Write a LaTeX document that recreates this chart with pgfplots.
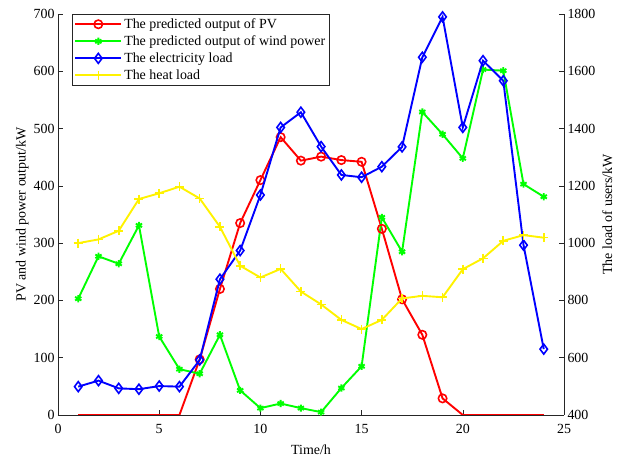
\documentclass[border=0pt]{standalone}
\usepackage{fontspec}
\setmainfont{Liberation Serif}
\usepackage{pgfplots}
\pgfplotsset{compat=1.18}
\definecolor{axgray}{rgb}{0.15,0.15,0.15}
\begin{document}
\begin{tikzpicture}
\pgfplotsset{
  every axis/.append style={
    scale only axis, width=506bp, height=401bp,
    xmin=0, xmax=25, xtick={0,5,...,25},
    tick align=inside,
    font=\fontsize{14}{16}\selectfont,
    /pgf/number format/assume math mode=true,
    /pgf/number format/1000 sep={},
    axis line style={axgray, line width=0.5pt},
    tick style={axgray, line width=0.5pt},
    major tick length=5bp,
  },
  pvstyle/.style={red, line width=1.9pt, mark=o, mark size=4.2bp, mark options={line width=1.6pt}},
  wstyle/.style={green, line width=1.9pt, mark=asterisk, mark size=3.6bp, mark options={line width=1.9pt}},
  estyle/.style={blue, line width=1.9pt, mark=diamond, mark size=5bp, mark options={line width=1.6pt}},
  hstyle/.style={yellow, line width=1.9pt, mark=+, mark size=4.5bp, mark options={line width=1.6pt}},
}
\begin{axis}[
  name=ax,
  axis x line*=bottom, axis y line*=left,
  ymin=0, ymax=700, ytick={0,100,...,700},
  xlabel={Time/h},
  ylabel={PV and wind power output/kW},
  xticklabel style={yshift=-6bp},
  xlabel style={yshift=-4bp},
  ylabel style={yshift=-2bp},
]
\addplot[pvstyle, mark indices={7,...,19}] coordinates {
(1,0)(2,0)(3,0)(4,0)(5,0)(6,0)(7,97)(8,220)(9,335)(10,410)(11,485)(12,444)
(13,451)(14,445)(15,442)(16,325)(17,202)(18,140)(19,29)(20,0)(21,0)(22,0)(23,0)(24,0)};
\addplot[wstyle] coordinates {
(1,203)(2,277)(3,264)(4,331)(5,137)(6,80)(7,72)(8,140)(9,43)(10,12)(11,20)(12,12)
(13,5)(14,47)(15,85)(16,345)(17,285)(18,529)(19,490)(20,448)(21,603)(22,601)(23,403)(24,381)};
\end{axis}
\begin{axis}[
  axis x line=none, axis y line*=right,
  ymin=400, ymax=1800, ytick={400,600,...,1800},
  ylabel={The load of users/kW},
  legend style={at={(0.028,0.999)}, anchor=north west, draw=axgray,
    font=\fontsize{14}{16}\selectfont, row sep=1.8bp, inner xsep=2bp, inner ysep=2bp},
  legend cell align=left,
  legend image code/.code={\draw[mark repeat=2,mark phase=2,#1] plot coordinates {(0bp,0bp) (23bp,0bp) (46bp,0bp)};},
]
\addlegendimage{pvstyle}
\addlegendentry{The predicted output of PV}
\addlegendimage{wstyle}
\addlegendentry{The predicted output of wind power}
\addplot[estyle] coordinates {
(1,499)(2,520)(3,493)(4,490)(5,501)(6,499)(7,592)(8,874)(9,974)(10,1168)(11,1404)(12,1457)
(13,1337)(14,1238)(15,1230)(16,1267)(17,1336)(18,1649)(19,1790)(20,1404)(21,1637)(22,1567)(23,993)(24,630)};
\addlegendentry{The electricity load}
\addplot[hstyle] coordinates {
(1,1000)(2,1013)(3,1043)(4,1154)(5,1174)(6,1197)(7,1156)(8,1057)(9,921)(10,880)(11,910)(12,831)
(13,786)(14,732)(15,700)(16,732)(17,807)(18,816)(19,811)(20,909)(21,947)(22,1008)(23,1028)(24,1019)};
\addlegendentry{The heat load}
\end{axis}
\path[use as bounding box] ([xshift=-58bp,yshift=-49bp]ax.south west) rectangle ([xshift=60bp,yshift=14bp]ax.north east);
\end{tikzpicture}
\end{document}
